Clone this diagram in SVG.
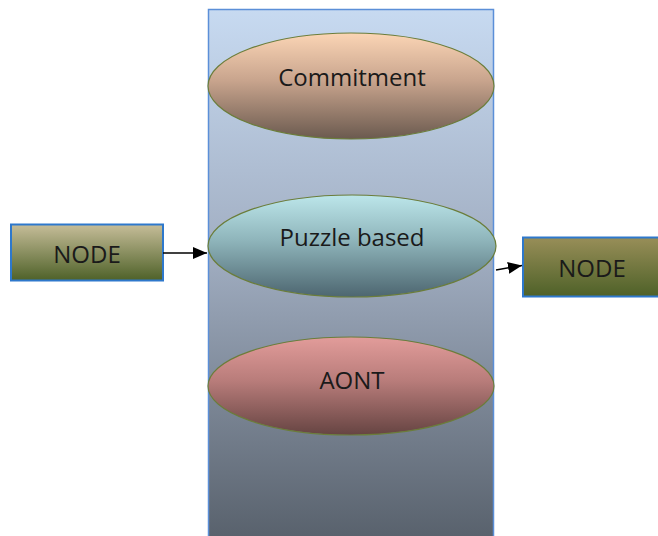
<svg xmlns="http://www.w3.org/2000/svg" width="658" height="536" viewBox="0 0 658 536">
<defs>
<linearGradient id="gBg" x1="0" y1="0" x2="0" y2="1"><stop offset="0" stop-color="#c7daf1"/><stop offset="0.45" stop-color="#a2afc3"/><stop offset="1" stop-color="#58616c"/></linearGradient>
<linearGradient id="gCom" x1="0" y1="0" x2="0" y2="1"><stop offset="0" stop-color="#fbd5b5"/><stop offset="0.45" stop-color="#c8a48d"/><stop offset="1" stop-color="#6b5a4f"/></linearGradient>
<linearGradient id="gPuz" x1="0" y1="0" x2="0" y2="1"><stop offset="0" stop-color="#bce6ea"/><stop offset="0.45" stop-color="#8eb4ba"/><stop offset="1" stop-color="#4d6670"/></linearGradient>
<linearGradient id="gAont" x1="0" y1="0" x2="0" y2="1"><stop offset="0" stop-color="#e29c9a"/><stop offset="0.45" stop-color="#b87c7a"/><stop offset="1" stop-color="#664442"/></linearGradient>
<linearGradient id="gNode" x1="0" y1="0" x2="0" y2="1"><stop offset="0" stop-color="#c6bd99"/><stop offset="1" stop-color="#4e6128"/></linearGradient>
<linearGradient id="gNode2" x1="0" y1="0" x2="0" y2="1"><stop offset="0" stop-color="#988e58"/><stop offset="1" stop-color="#4e6128"/></linearGradient>
<marker id="arr" markerWidth="14" markerHeight="12" refX="14" refY="6" orient="auto" markerUnits="userSpaceOnUse"><path d="M0,0 L14,6 L0,12 z" fill="#000"/></marker>
</defs>
<style>
.ell{stroke:#6b7d3a;stroke-width:1.2}
.node{stroke:#2e78cc;stroke-width:2}
.lbl{font-family:"Open Sans","Noto Sans",sans-serif;font-size:24px;fill:#1a1a1a;text-anchor:middle}
.con{stroke:#000;stroke-width:1.5;fill:none}
</style>
<g id="container"><rect x="208.5" y="9.5" width="285" height="530" fill="url(#gBg)" stroke="#5b8fd8" stroke-width="1.5"/></g>
<g id="commitment"><ellipse class="ell" cx="351" cy="86" rx="143" ry="53" fill="url(#gCom)"/><text class="lbl" x="352" y="86">Commitment</text></g>
<g id="puzzle"><ellipse class="ell" cx="352" cy="246" rx="144" ry="51" fill="url(#gPuz)"/><text class="lbl" x="352" y="246">Puzzle based</text></g>
<g id="aont"><ellipse class="ell" cx="351" cy="386" rx="143" ry="49" fill="url(#gAont)"/><text class="lbl" x="352" y="389">AONT</text></g>
<g id="node1"><rect class="node" x="11" y="224.5" width="152" height="56" fill="url(#gNode)"/><text class="lbl" x="87" y="263">NODE</text></g>
<g id="node2"><rect class="node" x="523" y="237.5" width="140" height="59" fill="url(#gNode2)"/><text class="lbl" x="592" y="277">NODE</text></g>
<g id="connectors">
<line class="con" x1="163" y1="253" x2="207" y2="253" marker-end="url(#arr)"/>
<line class="con" x1="496" y1="270" x2="522" y2="265.5" marker-end="url(#arr)"/>
</g>
</svg>
